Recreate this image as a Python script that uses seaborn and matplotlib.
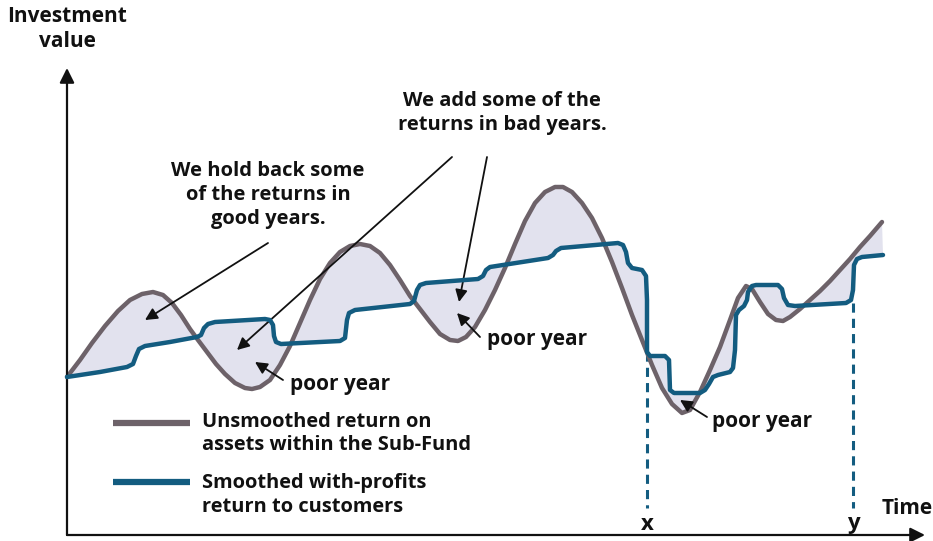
import numpy as np
import pandas as pd
import matplotlib.pyplot as plt
import seaborn as sns

# ---- data (time units / value units above the time axis) ----
unsmoothed_time = [0, 13, 25, 38, 51, 63, 75, 86, 96, 105, 114, 123, 131, 140, 149, 158, 168, 178, 185,
                   193, 203, 213, 223, 233, 243, 253, 263, 273, 283, 293, 303, 313, 323, 333, 343, 353,
                   363, 373, 383, 391, 399, 408, 418, 428, 438, 448, 458, 468, 478, 488, 496, 505, 515,
                   525, 535, 545, 555, 565, 575, 585, 595, 605, 615, 623, 633, 643, 653, 663, 671, 679,
                   685, 693, 701, 709, 716, 723, 733, 743, 753, 763, 773, 783, 793, 803, 815]
unsmoothed_value = [156, 173, 190, 207, 222, 233, 239, 241, 238, 230, 218, 204, 193, 181, 169, 159, 150, 145, 144,
                    146, 153, 168, 187, 210, 233, 254, 270, 281, 287, 289, 287, 280, 268, 253, 237, 224,
                    211, 199, 193, 192, 196, 206, 223, 243, 265, 289, 312, 330, 341, 346, 346, 341, 330,
                    315, 295, 271, 245, 218, 193, 168, 145, 129, 120, 123, 141, 163, 186, 213, 235, 247,
                    244, 231, 219, 213, 212, 216, 224, 233, 242, 252, 263, 274, 286, 297, 311]

smoothed_time = [0, 33, 60, 66, 69, 72, 78, 103, 130, 134, 137, 141, 148, 198, 203, 206, 207, 209, 214,
                 273, 278, 280, 282, 288, 343, 347, 350, 353, 359, 411, 416, 419, 423, 481, 486, 489, 494,
                 551, 556, 559, 561, 565, 575, 579, 580, 580, 583, 598, 602, 603, 607, 633, 638, 642, 646,
                 651, 663, 666, 668, 669, 672, 677, 680, 681, 685, 689, 711, 715, 717, 721, 728, 779, 784,
                 786, 787, 790, 795, 816]
smoothed_value = [156, 161, 166, 169, 177, 184, 187, 191, 196, 198, 205, 209, 211, 214, 213, 208, 197, 191, 189,
                  192, 195, 213, 220, 223, 229, 232, 243, 248, 250, 254, 257, 263, 266, 275, 278, 282, 285,
                  290, 288, 281, 270, 265, 263, 257, 233, 181, 177, 177, 173, 143, 140, 140, 143, 149, 156,
                  158, 161, 165, 183, 218, 223, 227, 233, 241, 247, 248, 248, 244, 235, 228, 227, 230, 233,
                  243, 268, 274, 276, 278]

marker_time = [580, 786]
marker_top = [181, 230]
marker_labels = ['x', 'y']

unsmoothed_label = 'Unsmoothed return on\nassets within the Sub-Fund'
smoothed_label = 'Smoothed with-profits\nreturn to customers'

grey = '#6d6269'
blue = '#135c80'
fill_col = '#e2e2ee'

sns.set_theme(style='white')
plt.rcParams['font.family'] = ['Open Sans', 'DejaVu Sans']
plt.rcParams['text.color'] = '#111111'

fig = plt.figure(figsize=(9.33, 5.41), dpi=100)
ax = fig.add_axes([0, 0, 1, 1])

# shaded gap between the two curves
poly_t = unsmoothed_time + smoothed_time[::-1]
poly_v = unsmoothed_value + smoothed_value[::-1]
ax.fill(poly_t, poly_v, color=fill_col, lw=0, zorder=1)

df_u = pd.DataFrame({'time': unsmoothed_time, 'value': unsmoothed_value})
df_s = pd.DataFrame({'time': smoothed_time, 'value': smoothed_value})
sns.lineplot(data=df_u, x='time', y='value', sort=False, estimator=None, color=grey, lw=3.2,
             solid_joinstyle='round', ax=ax, zorder=3)
sns.lineplot(data=df_s, x='time', y='value', sort=False, estimator=None, color=blue, lw=3.2,
             solid_joinstyle='round', ax=ax, zorder=4)
ax.set_xlim(-67, 866)
ax.set_ylim(-8, 533)
ax.axis('off')

# dashed markers x and y
for t, top, lab in zip(marker_time, marker_top, marker_labels):
    ax.plot([t, t], [top, 25], color=blue, lw=2.2, ls=(0, (3, 2)), zorder=2)
    ax.text(t, 9, lab, ha='center', va='center', fontsize=16, fontweight='bold')

# axes arrows
arrow = dict(arrowstyle='-|>', color='#111111', lw=1.6, mutation_scale=22, shrinkA=0, shrinkB=0)
ax.annotate('', xy=(0, 465), xytext=(0, -2), arrowprops=arrow)
ax.annotate('', xy=(858, -2), xytext=(0, -2), arrowprops=arrow)

ax.text(0, 504, 'Investment\nvalue', ha='center', va='center', fontsize=15, fontweight='bold', linespacing=1.2)
ax.text(815, 25, 'Time', ha='left', va='center', fontsize=15, fontweight='bold')

# callouts
ax.text(201, 338, 'We hold back some\nof the returns in\ngood years.', ha='center', va='center',
        fontsize=14.5, fontweight='bold', linespacing=1.25)
ax.text(435, 420, 'We add some of the\nreturns in bad years.', ha='center', va='center',
        fontsize=14.5, fontweight='bold', linespacing=1.25)
for xt, yt in [(223, 143), (420, 188), (645, 106)]:
    ax.text(xt, yt, 'poor year', ha='left', va='baseline', fontsize=15, fontweight='bold')

pointer = dict(arrowstyle='-|>', color='#111111', lw=1.3, mutation_scale=18, shrinkA=0, shrinkB=0)
for tail, tip in [((201, 290), (78, 213)), ((385, 376), (170, 183)), ((420, 376), (392, 231)),
                  ((216, 153), (188, 171)), ((413, 196), (390, 220)), ((640, 116), (613, 133))]:
    ax.annotate('', xy=tip, xytext=tail, arrowprops=pointer)

# key
ax.plot([46, 123], [110, 110], color=grey, lw=4.5, solid_capstyle='butt')
ax.plot([46, 123], [51, 51], color=blue, lw=4.5, solid_capstyle='butt')
ax.text(135, 99.5, unsmoothed_label, ha='left', va='center', fontsize=14.4, fontweight='bold', linespacing=1.25)
ax.text(135, 38, smoothed_label, ha='left', va='center', fontsize=14.4, fontweight='bold', linespacing=1.25)

fig.savefig('out.png', dpi=100)
